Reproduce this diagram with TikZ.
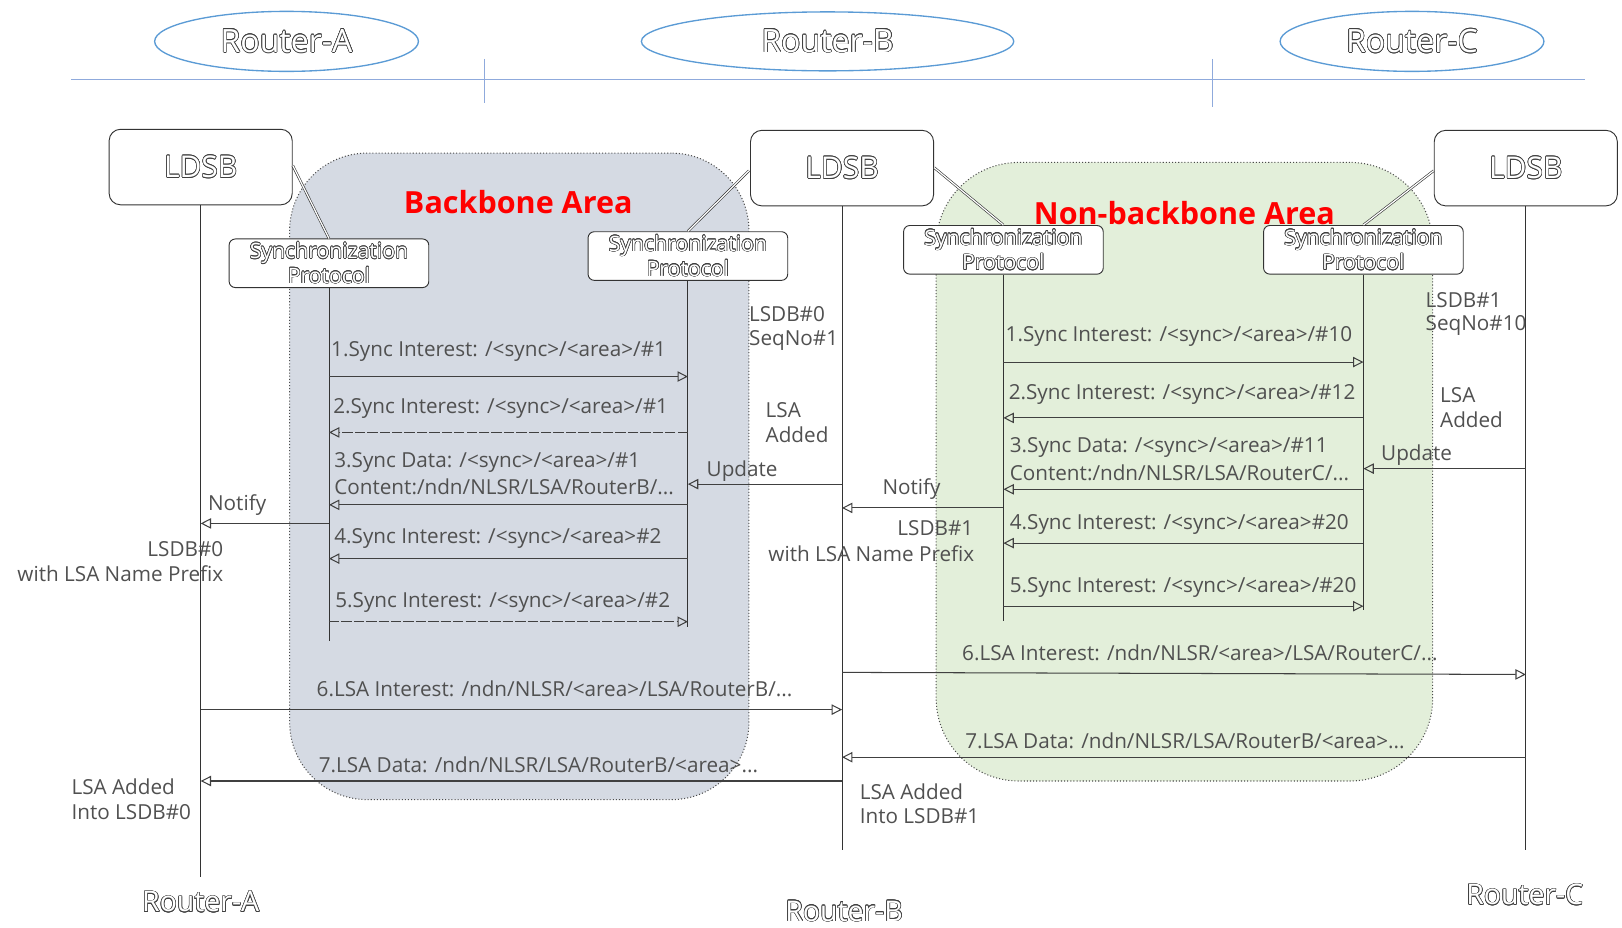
\documentclass[tikz,border=0pt]{standalone}
\usepackage{fontspec}
\setmainfont{Open Sans}
\usepackage{contour}
\contourlength{0.6pt}
\usetikzlibrary{arrows.meta,shapes.geometric}
\definecolor{bbfill}{HTML}{D5DAE3}
\definecolor{nbfill}{HTML}{E3EFDA}
\definecolor{txt}{HTML}{505050}
\definecolor{hdr}{HTML}{5B9BD5}
\definecolor{hline}{HTML}{8FAADC}
\newcommand{\olt}[1]{{\color{white}\contour{black!75}{#1}}}
\begin{document}
\begin{tikzpicture}[x=1pt,y=-1pt,
  head/.style={ellipse, draw=hdr, line width=1.3pt, minimum width=255pt, minimum height=58pt, inner sep=0pt, font=\fontsize{31}{34}\selectfont},
  ldsb/.style={draw=black!80, line width=0.9pt, fill=white, rounded corners=11pt, minimum width=177pt, minimum height=73pt, inner sep=0pt, font=\fontsize{29}{32}\selectfont},
  syncbox/.style={draw=black!80, line width=0.9pt, fill=white, rounded corners=6pt, minimum width=193pt, minimum height=47pt, inner sep=0pt, align=center, font=\fontsize{20.5}{24}\selectfont},
  area/.style={draw=black!70, line width=1pt, dotted, inner sep=0pt},
  life/.style={draw=black!80, line width=0.8pt},
  link/.style={draw=black!80, line width=0.6pt, double=white, double distance=1.2pt},
  msg/.style={draw=black!75, line width=1pt, -{Triangle[open,length=10pt,width=10pt]}},
  dmsg/.style={msg, dash pattern=on 10pt off 2pt},
  lbl/.style={text=txt, inner sep=0pt, anchor=west, font=\fontsize{20}{24}\selectfont},
  rlbl/.style={lbl, anchor=east},
  foot/.style={inner sep=0pt, font=\fontsize{27.5}{30}\selectfont},
  title/.style={text=red, inner sep=0pt, font=\bfseries\fontsize{29.5}{34}\selectfont}
]
\useasboundingbox (0,0) rectangle (1568,897);

% header
\node[head] (hA) at (277,40) {\olt{Router-A}};
\node[head, minimum width=360pt, minimum height=57pt] (hB) at (800,40) {\olt{Router-B}};
\node[head] (hC) at (1365,40) {\olt{Router-C}};
\coordinate (hl1) at (69,77);
\coordinate (hl2) at (1532,77);
\draw[hline, line width=1.2pt] (hl1) -- (hl2);
\coordinate (t1a) at (468,57); \coordinate (t1b) at (468,100);
\coordinate (t2a) at (1172,57); \coordinate (t2b) at (1172,103);
\draw[hline, line width=1.2pt] (t1a) -- (t1b);
\draw[hline, line width=1.2pt] (t2a) -- (t2b);

% areas
\node[area, fill=bbfill, rounded corners=75pt, minimum width=444pt, minimum height=625pt] (bb) at (502,460.5) {};
\node[area, fill=nbfill, rounded corners=80pt, minimum width=480pt, minimum height=598pt] (nb) at (1145,456) {};
\node[title] (bbt) at (501,195) {Backbone Area};
\node[title] (nbt) at (1145,206) {Non-backbone Area};

% LDSB boxes
\node[ldsb] (lA) at (194,161.5) {\olt{LDSB}};
\node[ldsb] (lB) at (814,162.5) {\olt{LDSB}};
\node[ldsb] (lC) at (1475,162.5) {\olt{LDSB}};

% sync boxes
\node[syncbox] (sA) at (318,254.5) {\olt{Synchronization}\\\olt{Protocol}};
\node[syncbox] (sB1) at (665,247.5) {\olt{Synchronization}\\\olt{Protocol}};
\node[syncbox] (sB2) at (970,241.5) {\olt{Synchronization}\\\olt{Protocol}};
\node[syncbox] (sC) at (1318,241.5) {\olt{Synchronization}\\\olt{Protocol}};

% links LDSB -- sync
\coordinate (kA) at (283,160); \coordinate (kB1) at (724,165);
\coordinate (kB2) at (903,162); \coordinate (kC) at (1386,165);
\draw[link] (kA) -- (sA.north);
\draw[link] (kB1) -- (sB1.north);
\draw[link] (kB2) -- (sB2.north);
\draw[link] (kC) -- (sC.north);

% lifelines
\coordinate (eA) at (194,848);
\coordinate (eB) at (814,822);
\coordinate (eC) at (1475,822);
\draw[life] (lA.south) -- (eA);
\draw[life] (lB.south) -- (eB);
\draw[life] (lC.south) -- (eC);
\coordinate (esA) at (318,620);
\coordinate (esB1) at (665,606);
\coordinate (esB2) at (970,600);
\coordinate (esC) at (1318,590);
\draw[life] (sA.south) -- (esA);
\draw[life] (sB1.south) -- (esB1);
\draw[life] (sB2.south) -- (esB2);
\draw[life] (sC.south) -- (esC);

% backbone sync messages
\node[lbl] (m1) at (320,340) {1.Sync Interest: /<sync>/<area>/\#1};
\draw[msg] (sA |- 0,364) -- (sB1 |- 0,364);
\node[lbl] (m2) at (322,395) {2.Sync Interest: /<sync>/<area>/\#1};
\draw[dmsg] (sB1 |- 0,418) -- (sA |- 0,418);
\node[lbl] (m3) at (323,447) {3.Sync Data: /<sync>/<area>/\#1};
\node[lbl] (m3b) at (323,471) {Content:/ndn/NLSR/LSA/RouterB/...};
\draw[msg] (sB1 |- 0,488) -- (sA |- 0,488);
\node[lbl] (m4) at (323,521) {4.Sync Interest: /<sync>/<area>\#2};
\draw[msg] (sB1 |- 0,540) -- (sA |- 0,540);
\node[lbl] (m5) at (324,582) {5.Sync Interest: /<sync>/<area>/\#2};
\draw[dmsg] (sA |- 0,601) -- (sB1 |- 0,601);

% backbone update / notify
\draw[msg] (lB |- 0,468) -- (sB1 |- 0,468);
\node[lbl] (up1) at (683,455) {Update};
\draw[msg] (sA |- 0,506) -- (lA |- 0,506);
\node[lbl] (no1) at (201,488) {Notify};
\node[rlbl] (ls0) at (216,531) {LSDB\#0};
\node[rlbl] (wp0) at (216,555) {with LSA Name Prefix};
\node[lbl] (sq0) at (724,304) {LSDB\#0};
\node[lbl] (sq0b) at (724,329) {SeqNo\#1};
\node[lbl] (ad0) at (740,396) {LSA};
\node[lbl] (ad0b) at (740,420) {Added};

% non-backbone sync messages
\node[lbl] (n1) at (972,325) {1.Sync Interest: /<sync>/<area>/\#10};
\draw[msg] (sB2 |- 0,350) -- (sC |- 0,350);
\node[lbl] (n2) at (975,381) {2.Sync Interest: /<sync>/<area>/\#12};
\draw[msg] (sC |- 0,404) -- (sB2 |- 0,404);
\node[lbl] (n3) at (976,433) {3.Sync Data: /<sync>/<area>/\#11};
\node[lbl] (n3b) at (976,457) {Content:/ndn/NLSR/LSA/RouterC/...};
\draw[msg] (sC |- 0,473) -- (sB2 |- 0,473);
\node[lbl] (n4) at (976,507) {4.Sync Interest: /<sync>/<area>\#20};
\draw[msg] (sC |- 0,525) -- (sB2 |- 0,525);
\node[lbl] (n5) at (976,568) {5.Sync Interest: /<sync>/<area>/\#20};
\draw[msg] (sB2 |- 0,586) -- (sC |- 0,586);

% non-backbone update / notify
\draw[msg] (lC |- 0,453) -- (sC |- 0,453);
\node[lbl] (up2) at (1335,440) {Update};
\draw[msg] (sB2 |- 0,491) -- (lB |- 0,491);
\node[lbl] (no2) at (853,473) {Notify};
\node[rlbl] (ls1) at (941,511) {LSDB\#1};
\node[rlbl] (wp1) at (942,535) {with LSA Name Prefix};
\node[lbl] (sq1) at (1378,290) {LSDB\#1};
\node[lbl] (sq1b) at (1378,315) {SeqNo\#10};
\node[lbl] (ad1) at (1392,382) {LSA};
\node[lbl] (ad1b) at (1392,406) {Added};

% LSA messages
\node[lbl] (a6) at (306,666) {6.LSA Interest: /ndn/NLSR/<area>/LSA/RouterB/...};
\draw[msg] (lA |- 0,686) -- (lB |- 0,686);
\node[lbl] (a7) at (308,739) {7.LSA Data: /ndn/NLSR/LSA/RouterB/<area>...};
\draw[msg] (lB |- 0,755) -- (lA |- 0,755);
\node[lbl] (ad2) at (69,761) {LSA Added};
\node[lbl] (ad2b) at (69,785) {Into LSDB\#0};
\node[lbl] (b6) at (930,631) {6.LSA Interest: /ndn/NLSR/<area>/LSA/RouterC/...};
\draw[msg] (lB |- 0,650) -- (lC |- 0,652);
\node[lbl] (b7) at (933,716) {7.LSA Data: /ndn/NLSR/LSA/RouterB/<area>...};
\draw[msg] (lC |- 0,732) -- (lB |- 0,732);
\node[lbl] (ad3) at (831,765) {LSA Added};
\node[lbl] (ad3b) at (831,789) {Into LSDB\#1};

% footer
\node[foot] (fA) at (194,872) {\olt{Router-A}};
\node[foot] (fB) at (816,881) {\olt{Router-B}};
\node[foot] (fC) at (1474,865) {\olt{Router-C}};
\end{tikzpicture}
\end{document}
